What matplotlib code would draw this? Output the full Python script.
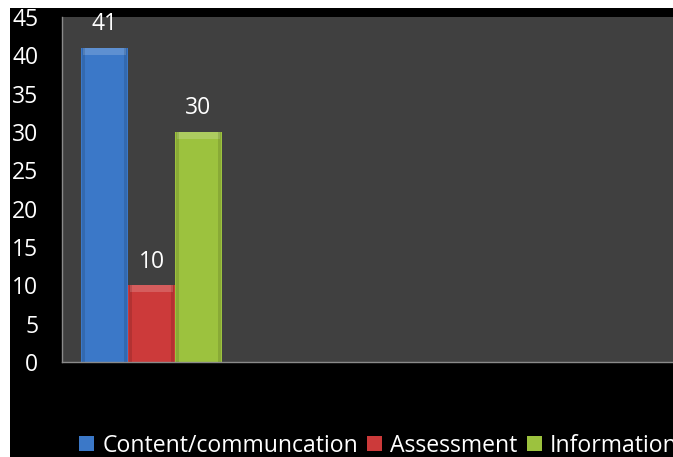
import matplotlib.pyplot as plt
from matplotlib.patches import Rectangle, Patch

# data
series = ["Content/communcation", "Assessment", "Information"]
values = [41, 10, 30]
colors = ["#3b78c8", "#cc3a3a", "#9cc23e"]
yticks = [0, 5, 10, 15, 20, 25, 30, 35, 40, 45]

plt.rcParams['font.family'] = ['Open Sans', 'DejaVu Sans']

W, H = 673, 457
fig = plt.figure(figsize=(W / 100, H / 100), dpi=100, facecolor="white")

# black chart background, white strip on top and left
fig.patches.append(Rectangle((10 / W, 0), 1 - 10 / W, 1 - 8 / H,
                             transform=fig.transFigure, facecolor="black",
                             edgecolor="none", zorder=-10))

ax = fig.add_axes([62 / W, (H - 362) / H, 611 / W, 345 / H])
ax.set_facecolor("#404040")

x = [0, 1, 2]
bars = ax.bar(x, values, width=1.0, color=colors, edgecolor="none", zorder=2)

# rough bevel look: lighter cap on top of each bar, darker sides
for b, c in zip(bars, colors):
    ax.bar(b.get_x() + b.get_width() / 2, 0.9, width=0.92, bottom=b.get_height() - 0.9,
           color="white", alpha=0.18, edgecolor="none", zorder=3)
    ax.bar(b.get_x() + 0.03, b.get_height(), width=0.06, align="edge",
           color="black", alpha=0.12, edgecolor="none", zorder=3)
    ax.bar(b.get_x() + 0.91, b.get_height(), width=0.06, align="edge",
           color="black", alpha=0.12, edgecolor="none", zorder=3)

for xi, v in zip(x, values):
    ax.annotate(str(v), (xi, v), xytext=(0, 17), textcoords="offset points",
                ha="center", va="center", color="white", fontsize=16.5)

left = -0.5 - 19 / 47
ax.set_xlim(left, left + 611 / 47)
ax.set_ylim(0, 45)
ax.set_xticks([])
ax.set_yticks(yticks)
ax.tick_params(axis="y", length=0, pad=17, labelcolor="white", labelsize=16.5)

for s in ["top", "right"]:
    ax.spines[s].set_visible(False)
for s in ["left", "bottom"]:
    ax.spines[s].set_color("#8a8a8a")
    ax.spines[s].set_linewidth(1)

# legend runs past the right edge, as in the original screenshot
handles = [Patch(facecolor=c, edgecolor="none") for c in colors]
fig.legend(handles, series, loc="lower left", bbox_to_anchor=(70 / W, -10 / H),
           ncol=3, frameon=False, fontsize=16.6, labelcolor="white",
           handlelength=0.65, handleheight=0.65, handletextpad=0.35,
           columnspacing=0.4, borderaxespad=0)

fig.savefig("out.png", dpi=100, facecolor="white")
